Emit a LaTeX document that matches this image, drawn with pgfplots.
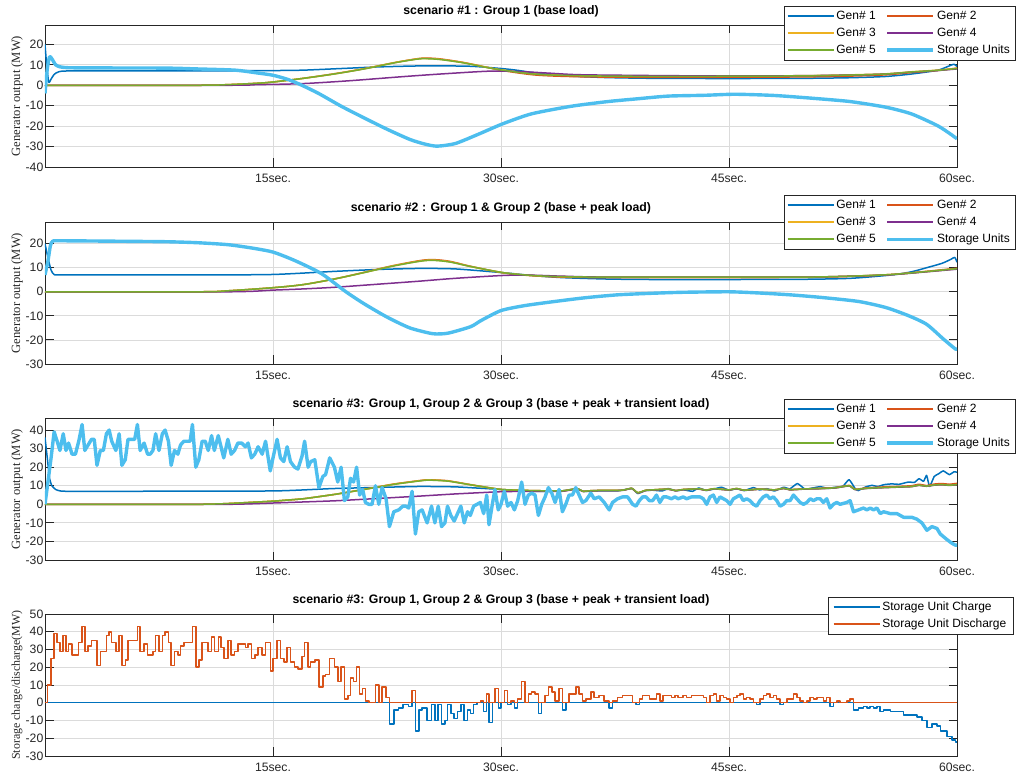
\documentclass[border=0pt]{standalone}
\usepackage{fontspec}
\setmainfont{Liberation Sans}
\newfontfamily\timesf{Liberation Serif}
\usepackage{pgfplots}
\pgfplotsset{compat=1.18}
\usepackage{pgfplotstable}

\definecolor{c1}{rgb}{0,0.447,0.741}
\definecolor{c2}{rgb}{0.85,0.325,0.098}
\definecolor{c3}{rgb}{0.929,0.694,0.125}
\definecolor{c4}{rgb}{0.494,0.184,0.556}
\definecolor{c5}{rgb}{0.466,0.674,0.188}
\definecolor{c6}{rgb}{0.301,0.745,0.933}
\definecolor{axc}{rgb}{0.15,0.15,0.15}

\pgfplotstableread{
t v
0.00 0
0.16 10
0.40 25
0.60 39
0.80 34
0.98 29
1.20 38
1.38 29
1.55 33
1.78 27
2.00 27
2.22 34
2.44 43
2.62 29
2.84 32
3.06 35
3.24 35
3.42 21
3.64 29
3.84 29
4.04 38
4.22 40
4.39 34
4.66 29
4.88 38
5.06 21
5.28 24
5.46 35
5.70 35
5.90 35
6.08 43
6.26 29
6.52 33
6.75 27
6.92 27
7.10 29
7.28 38
7.50 29
7.72 38
7.90 40
8.12 34
8.30 21
8.52 29
8.74 27
8.92 32
9.14 34
9.40 34
9.55 34
9.70 43
9.92 20
10.12 24
10.34 34
10.54 34
10.74 29
10.96 37
11.14 29
11.40 37
11.58 31
11.76 25
12.03 35
12.25 27
12.47 29
12.69 33
12.94 33
13.18 31
13.36 33
13.58 25
13.80 27
14.02 31
14.29 27
14.51 34
14.82 18
15.00 25
15.27 35
15.49 25
15.71 23
15.93 31
16.15 23
16.42 20
16.64 19
16.91 26
17.08 34
17.31 20
17.48 23
17.75 24
18.02 9
18.28 15
18.46 16
18.73 25
19.04 20
19.26 12
19.48 20
19.70 2
19.92 4
20.10 14
20.30 12
20.50 20
20.70 5
20.90 8
21.08 1
21.30 0
21.52 0
21.74 10
21.96 0
22.18 9
22.44 3
22.66 -12
22.95 -4
23.27 -3
23.54 -1
23.74 -1
23.93 -2
24.15 7
24.37 -16
24.59 -4
24.81 -3
25.14 -10
25.43 -1
25.65 -10
25.87 -1
26.09 -12
26.31 -10
26.48 -1
26.70 -6
26.92 -9
27.14 -5
27.36 -1
27.58 -10
27.80 -4
27.98 -6
28.20 -1
28.42 0
28.64 1
28.86 -5
29.06 5
29.21 -11
29.43 0
29.60 8
29.82 -3
30.00 0
30.22 7
30.44 -1
30.66 1
30.88 -3
31.10 2
31.36 12
31.58 0
31.80 5
32.02 6
32.24 5
32.46 -6
32.68 0
32.90 4
33.12 9
33.34 6
33.56 1
33.82 8
34.04 -4
34.26 0
34.48 5
34.70 5
34.92 9
35.14 5
35.36 1
35.58 2
35.91 6
36.13 3
36.46 4
36.79 1
37.12 -3
37.34 1
37.67 3
38.00 4
38.33 4
38.66 0
38.88 -1
39.10 2
39.32 4
39.54 4
39.76 2
39.98 2
40.23 5
40.45 1
40.67 4
40.89 4
41.22 3
41.44 4
41.66 3
41.99 4
42.21 3
42.54 4
42.76 4
43.09 4
43.31 3
43.53 0
43.75 4
43.97 5
44.19 1
44.41 4
44.63 3
44.85 2
45.07 0
45.29 3
45.51 4
45.72 5
45.94 2
46.16 3
46.38 2
46.60 0
46.82 -1
47.04 2
47.26 4
47.48 5
47.70 3
47.92 4
48.14 2
48.36 -1
48.58 0
48.80 2
49.02 2
49.24 5
49.46 3
49.68 1
49.90 0
50.12 1
50.34 3
50.56 2
50.78 3
51.00 3
51.21 1
51.43 3
51.65 -2
51.87 0
52.09 1
52.31 0
52.75 1
52.97 2
53.19 -4
53.52 -3
53.85 -2
54.07 -3
54.29 -2
54.51 -3
54.73 -2
54.95 -5
55.17 -4
55.61 -5
56.05 -5
56.49 -7
56.70 -7
57.03 -7
57.36 -8
57.69 -10
58.02 -14
58.35 -12
58.68 -13
58.90 -16
59.34 -19
59.67 -21
59.89 -22
60.00 -22
}\stor

\pgfplotsset{
  gen/.style={line width=1.5pt, line join=round},
  sto/.style={line width=3.4pt, line join=round},
  mlab/.style={
    scale only axis, width=912pt, height=142pt,
    xmin=0, xmax=60,
    xtick={15,30,45,60}, xticklabels={15sec.,30sec.,45sec.,60sec.},
    grid=major, grid style={color=black!14, line width=0.8pt},
    axis line style={color=axc, line width=0.9pt},
    tick style={color=axc, line width=0.9pt},
    tick align=inside, major tick length=8.5pt,
    ticklabel style={font=\fontsize{12.2}{14}\selectfont, text=black!85},
    xticklabel style={anchor=base, yshift=-15.5pt},
    yticklabel style={anchor=east, inner xsep=1.5pt},
    title style={font=\bfseries\fontsize{12.3}{14}\selectfont, at={(0.5,1)}, anchor=base, yshift=4.5pt},
    ylabel style={font=\timesf\fontsize{12.6}{14}\selectfont, text=black!85, at={(axis description cs:-0.0307,0.5)}, anchor=center},
    legend style={draw=axc, fill=white, font=\fontsize{12}{13}\selectfont,
      inner xsep=3pt, inner ysep=1.5pt,
      nodes={text height=9.6pt, text depth=3.2pt, inner ysep=2.1pt, inner xsep=2pt},
      /tikz/every even column/.append style={column sep=8pt}},
    legend cell align=left,
    legend image code/.code={\draw[##1] (0pt,0pt) -- (46pt,0pt);},
  }
}

\begin{document}
\begin{tikzpicture}
\useasboundingbox (0,0) rectangle (1018pt,-775pt);

% ---------------- Panel 1
\begin{axis}[mlab, at={(45pt,-25pt)}, anchor=north west,
  ymin=-40, ymax=29.5, ytick={-40,-30,...,20}, yticklabels={-40,-30,-20,-10,0,10,20},
  title={scenario \#1 : Group 1 (base load)},
  ylabel={Generator output (MW)},
  legend columns=2,
  legend style={at={(1.0636,1.134)}, anchor=north east}]
\addplot[c1, gen, smooth, tension=0.4] coordinates {(0,20)(0.12,9)(0.25,1.5)(0.4,3)(0.6,5.3)(0.9,6.6)(1.5,7)(5,7)(10,7)(15,7.2)(17,7.4)(19.5,8.2)(22,9)(25,9.5)(28,9.3)(30,8.2)(31,7.4)(32.3,6)(34,4.7)(36.8,3.8)(40,3.4)(45,3.3)(50,3.4)(53,3.7)(55.3,4.3)(57,5.5)(58.7,7.3)(59.4,9.2)(59.8,10.3)(60,9.2)};
\addplot[c2, gen, smooth] coordinates {(0,0)(10,0)(12,0.3)(14,1)(15,1.6)(16.9,3.3)(19,5.6)(21,8.1)(23,11.1)(24.5,13)(25.1,13.3)(26,12.9)(27.5,11.2)(29,8.9)(30.1,7.2)(32.3,5)(35,4.2)(39,3.9)(43.4,3.9)(47,4)(50,4.1)(53,4.5)(55.3,5.1)(57,6.2)(58.7,7.2)(60,8.4)};
\addplot[c3, gen, smooth] coordinates {(0,0)(10,0)(12,0.3)(14,1)(15,1.6)(16.9,3.3)(19,5.5)(21,8.1)(23,11.1)(24.5,12.9)(25.1,13.1)(26,12.7)(27.5,11.1)(29,8.9)(30.1,7.5)(32.3,5.5)(35,4.8)(39,4.5)(43.4,4.5)(47,4.6)(50,4.7)(53,5.1)(55.3,5.6)(57,6.6)(58.7,7.4)(60,8.3)};
\addplot[c4, gen, smooth] coordinates {(0,0)(12,0)(14,0.3)(16.9,0.8)(20,2.2)(23.5,4.2)(26,5.5)(29.2,6.9)(31,6.8)(33,6)(35,5.2)(38,4.9)(43,4.6)(47,4.6)(50,4.7)(53,5)(55.3,5.5)(57,6.4)(58.7,7.2)(60,8)};
\addplot[c5, gen, smooth] coordinates {(0,0)(10,0)(12,0.3)(14,1)(15,1.6)(16.9,3.3)(19,5.5)(21,8)(23,11)(24.5,12.8)(25.1,13)(26,12.6)(27.5,11)(29,8.8)(30.1,7.4)(32.3,5.4)(35,4.7)(39,4.4)(43.4,4.4)(47,4.5)(50,4.6)(53,5)(55.3,5.5)(57,6.5)(58.7,7.3)(60,8.2)};
\addplot[c6, sto, smooth, tension=0.4] coordinates {(0,-4)(0.15,8)(0.3,14)(0.45,13)(0.7,10)(1.0,9)(1.5,8.6)(3,8.5)(8,8.4)(10,8)(12.5,7.4)(14,6)(15,4.9)(16,2.8)(16.9,0)(18,-4)(19.5,-10.3)(21,-16)(22.5,-21.5)(24,-26.5)(25,-28.8)(25.8,-29.8)(27,-28.5)(28.5,-24)(30.1,-18.9)(32,-14)(34.6,-10.3)(37,-8)(39,-6.6)(41,-5.3)(43.4,-4.9)(45.4,-4.4)(48,-5)(50.9,-6.6)(53,-8)(55.3,-10.7)(57,-14)(58.7,-19.7)(59.5,-23.5)(60,-26.2)};
\legend{Gen\# 1,Gen\# 2,Gen\# 3,Gen\# 4,Gen\# 5,Storage Units}
\end{axis}

% ---------------- Panel 2
\begin{axis}[mlab, at={(45pt,-222pt)}, anchor=north west,
  ymin=-30, ymax=29, ytick={-30,-20,...,20}, yticklabels={-30,-20,-10,0,10,20},
  title={scenario \#2 : Group 1 \& Group 2 (base + peak load)},
  ylabel={Generator output (MW)},
  legend columns=2,
  legend style={at={(1.0636,1.19)}, anchor=north east}]
\addplot[c1, gen, smooth, tension=0.4] coordinates {(0,20)(0.2,14)(0.4,9)(0.6,7.2)(1,7)(5,7)(10,7)(15,7.2)(19.1,8.5)(22,9.3)(24.6,9.7)(27,9.5)(30.2,7.9)(32,6.8)(34,5.9)(37,5.3)(40,5.1)(45,5.1)(50,5.2)(53,5.6)(55.7,7.0)(57,8.3)(58,10.0)(59,11.8)(59.6,13.5)(59.85,14.3)(60,12.3)};
\addplot[c2, gen, smooth] coordinates {(0,0)(10,0)(12,0.4)(15,1.7)(17,3)(19.1,5.4)(21,8.1)(23,11)(25.1,13.3)(26.5,12.8)(28,10.6)(30.2,7.8)(32,6.7)(34,6.1)(37,5.9)(45,5.9)(50,6)(53,6.4)(55.7,7.2)(58,8.5)(60,9.8)};
\addplot[c3, gen, smooth] coordinates {(0,0)(10,0)(12,0.4)(15,1.7)(17,3)(19.1,5.4)(21,8)(23,10.9)(25.1,13.1)(26.5,12.6)(28,10.5)(30.2,7.9)(32,6.8)(34,6.3)(37,6.1)(45,6.1)(50,6.1)(53,6.5)(55.7,7.2)(58,8.4)(60,9.6)};
\addplot[c4, gen, smooth] coordinates {(0,0)(12,0)(15,0.7)(17,1.2)(19.1,1.9)(22,3.2)(24.6,4.4)(27,5.6)(30.2,6.8)(32,6.9)(34,6.5)(37,6.1)(45,6.1)(50,6.1)(53,6.5)(55.7,7.1)(58,8.3)(60,9.4)};
\addplot[c5, gen, smooth] coordinates {(0,0)(10,0)(12,0.4)(15,1.7)(17,3)(19.1,5.4)(21,8)(23,10.8)(25.1,13)(26.5,12.5)(28,10.5)(30.2,7.9)(32,6.8)(34,6.3)(37,6.1)(45,6.1)(50,6.1)(53,6.5)(55.7,7.2)(58,8.4)(60,9.6)};
\addplot[c6, sto, smooth, tension=0.4] coordinates {(0,7)(0.2,13)(0.35,19)(0.5,21)(1,21.2)(5,21)(8,20.8)(10,20.4)(12,19.6)(13.5,18.3)(15,16.5)(16.5,12.8)(18.2,7.5)(19.8,0)(21,-5)(22.5,-10.5)(24,-15)(25.5,-17.4)(26.5,-17.2)(28,-14.5)(28.7,-11.9)(30,-7.8)(31.5,-5.8)(33.2,-4.3)(35.5,-2.5)(37.7,-1.25)(40,-0.6)(42,-0.2)(45,0)(47,-0.5)(49,-1.25)(51,-2.3)(53.5,-4)(55.3,-6.5)(56.8,-9.9)(58,-13.5)(59.1,-19.6)(59.9,-23.8)(60,-23.5)};
\legend{Gen\# 1,Gen\# 2,Gen\# 3,Gen\# 4,Gen\# 5,Storage Units}
\end{axis}

% ---------------- Panel 3
\begin{axis}[mlab, at={(45pt,-418pt)}, anchor=north west,
  ymin=-30, ymax=46.5, ytick={-30,-20,...,40}, yticklabels={-30,-20,-10,0,10,20,30,40},
  title={scenario \#3: Group 1, Group 2 \& Group 3 (base + peak + transient load)},
  ylabel={Generator output (MW)},
  legend columns=2,
  legend style={at={(1.0636,1.134)}, anchor=north east}]
\addplot[c1, gen, smooth, tension=0.25] coordinates {(0,36)(0.15,25)(0.3,14)(0.45,10)(0.7,8)(1,7.2)(2,7)(15,7.2)(19,8.5)(24.5,9.6)(27,9.4)(30,8)(31,7.4)(32,7)(33,7)(34,7.2)(35,8.5)(35.4,7)(36,7.1)(37,7.3)(37.7,7.2)(38.6,8.6)(39,5.8)(39.5,7.4)(40,7.6)(40.6,7.2)(41,8.5)(41.5,7.3)(42,7.8)(42.6,7)(43,8.8)(43.5,7.5)(44,8.2)(44.5,9.2)(45,7.6)(45.5,8.4)(46,7.4)(46.6,9)(47,7.8)(47.5,8.4)(48,7.2)(48.6,9.2)(49,8.3)(49.5,11.2)(50,8.2)(50.5,8.8)(51,9.5)(51.5,8.6)(52,9.2)(52.5,9.8)(52.9,13.3)(53.3,8.5)(53.5,7.4)(54,9.4)(54.4,10.2)(54.8,9.6)(55.2,10.6)(55.7,11)(56.2,10.8)(56.8,12)(57.2,11.8)(57.5,13.8)(57.8,12.4)(58,15.6)(58.2,9.6)(58.5,15)(58.8,16.5)(59.1,18)(59.5,16)(59.8,17.5)(60,17.3)};
\addplot[c2, gen, smooth, tension=0.25] coordinates {(0,0)(10,0)(12,0.4)(15,1.7)(17,3)(19.1,5.4)(21,8.1)(23,11)(25.1,13.2)(26.5,12.7)(28,10.6)(30,8)(32,7.4)(34,7.2)(35,8.4)(35.4,7)(36,7.4)(37,7.5)(38,7.6)(38.6,8.6)(39,6.2)(39.5,7.5)(40,7.8)(41,8.2)(41.5,7.4)(42,8)(43,8.3)(43.5,7.6)(44,8.4)(45,7.8)(45.5,8.5)(46,7.6)(47,8.2)(48,7.8)(48.6,8.6)(49,7.9)(50,8.3)(51,8.6)(52,9)(52.9,10.2)(53.3,8.1)(54,8.8)(55,9.3)(56,9.6)(57,10)(57.5,10.8)(58,10.1)(58.5,10.9)(59,11.2)(59.5,10.8)(60,11.3)};
\addplot[c3, gen, smooth, tension=0.25] coordinates {(0,0)(10,0)(12,0.4)(15,1.7)(17,3)(19.1,5.4)(21,8)(23,10.9)(25.1,13.1)(26.5,12.6)(28,10.5)(30,8)(32,7.4)(34,7.2)(35,8.4)(35.4,7)(36,7.4)(37,7.5)(38,7.6)(38.6,8.6)(39,6.2)(39.5,7.5)(40,7.8)(41,8.2)(41.5,7.4)(42,8)(43,8.3)(43.5,7.6)(44,8.4)(45,7.8)(45.5,8.5)(46,7.6)(47,8.2)(48,7.8)(48.6,8.6)(49,7.9)(50,8.3)(51,8.5)(52,8.9)(52.9,10)(53.3,8)(54,8.6)(55,9)(56,9.3)(57,9.6)(57.5,10.3)(58,9.8)(58.5,10.4)(59,10.6)(59.5,10.3)(60,10.6)};
\addplot[c4, gen, smooth, tension=0.25] coordinates {(0,0)(12,0)(15,0.7)(19.1,1.9)(22,3.2)(24.6,4.4)(27,5.6)(30,6.8)(32,7)(34,7)(35,8.2)(35.4,6.9)(36,7.3)(37,7.4)(38,7.5)(38.6,8.5)(39,6.1)(39.5,7.4)(40,7.7)(41,8.1)(41.5,7.3)(42,7.9)(43,8.2)(43.5,7.5)(44,8.3)(45,7.7)(45.5,8.4)(46,7.5)(47,8.1)(48,7.7)(48.6,8.5)(49,7.8)(50,8.2)(51,8.4)(52,8.8)(52.9,9.9)(53.3,7.9)(54,8.5)(55,8.9)(56,9.2)(57,9.5)(57.5,10.2)(58,9.7)(58.5,10.3)(59,10.5)(59.5,10.2)(60,10.5)};
\addplot[c5, gen, smooth, tension=0.25] coordinates {(0,0)(10,0)(12,0.4)(15,1.7)(17,3)(19.1,5.4)(21,8)(23,10.8)(25.1,13)(26.5,12.5)(28,10.5)(30,8)(32,7.4)(34,7.2)(35,8.4)(35.4,7)(36,7.4)(37,7.5)(38,7.6)(38.6,8.6)(39,6.2)(39.5,7.5)(40,7.8)(41,8.2)(41.5,7.4)(42,8)(43,8.3)(43.5,7.6)(44,8.4)(45,7.8)(45.5,8.5)(46,7.6)(47,8.2)(48,7.8)(48.6,8.6)(49,7.9)(50,8.3)(51,8.5)(52,8.9)(52.9,10)(53.3,8)(54,8.6)(55,9)(56,9.3)(57,9.6)(57.5,10.3)(58,9.8)(58.5,10.4)(59,10.6)(59.5,10.3)(60,10.6)};
\addplot[c6, sto] table[x=t, y=v] {\stor};
\legend{Gen\# 1,Gen\# 2,Gen\# 3,Gen\# 4,Gen\# 5,Storage Units}
\end{axis}

% ---------------- Panel 4
\begin{axis}[mlab, at={(45pt,-614pt)}, anchor=north west,
  ymin=-30, ymax=50, ytick={-30,-20,...,50}, yticklabels={-30,-20,-10,0,10,20,30,40,50},
  title={scenario \#3: Group 1, Group 2 \& Group 3 (base + peak + transient load)},
  ylabel={Storage charge/discharge(MW)},
  ylabel style={font=\timesf\fontsize{11.9}{13}\selectfont},
  legend columns=1,
  legend style={at={(1.062,1.12)}, anchor=north east, inner xsep=5pt}]
\addplot[c1, gen, const plot mark left] table[x=t, y expr={min(\thisrow{v},0)}] {\stor};
\addplot[c2, gen, const plot mark left] table[x=t, y expr={max(\thisrow{v},0)}] {\stor};
\legend{Storage Unit Charge,Storage Unit Discharge}
\end{axis}
\end{tikzpicture}
\end{document}
